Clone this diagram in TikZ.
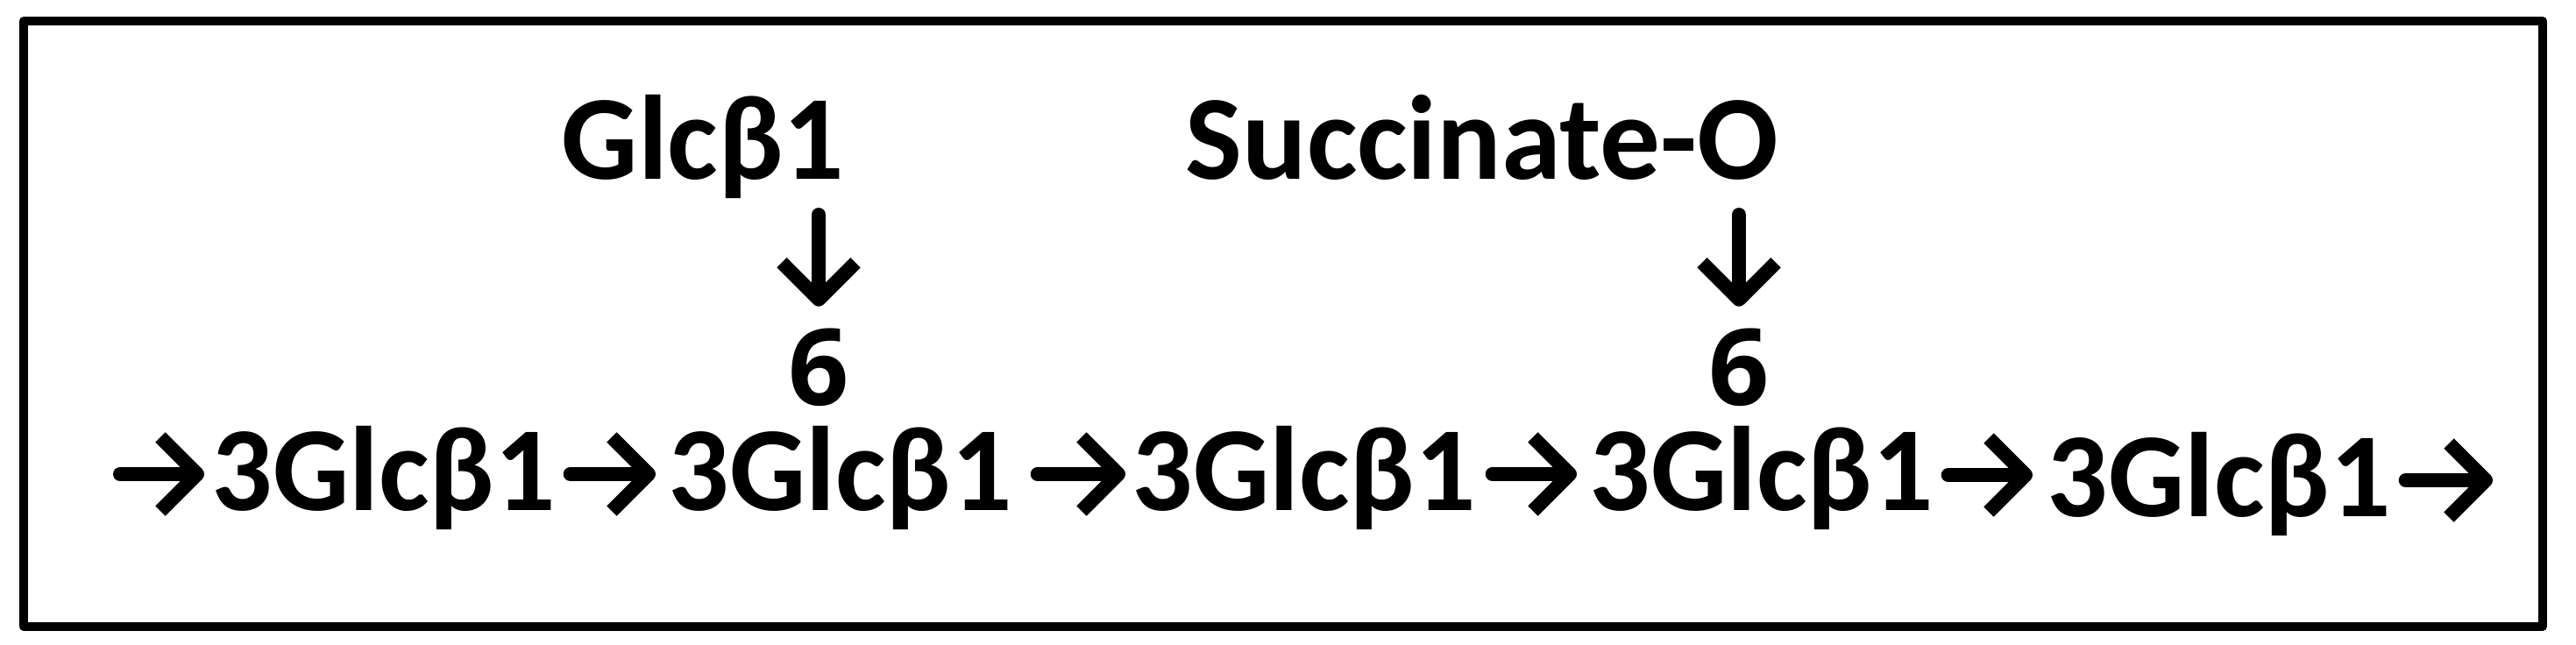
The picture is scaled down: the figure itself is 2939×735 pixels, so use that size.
\documentclass[tikz,border=0pt]{standalone}
\usepackage{fontspec}
\setmainfont{Carlito}
\newfontfamily\posfont{Open Sans}
\usetikzlibrary{arrows.meta,positioning,calc}

\begin{document}
\begin{tikzpicture}[
    x=0.01cm, y=-0.01cm,
    % --- 全域樣式設定 ---
    sugar/.style={font=\fontsize{39}{42}\selectfont\bfseries, inner sep=0pt, anchor=base west},
    chain/.style={sugar, text height=0.62em},
    % 連結位置 (6 號碳)
    position/.style={font=\posfont\fontsize{34.5}{38}\selectfont\bfseries, inner sep=0pt, anchor=base},
    % 糖鏈連結箭頭
    link/.style={line width=4.55pt, line cap=round,
        -{Straight Barb[length=4.2mm, width=8.4mm, line join=round, line cap=butt]}},
    frame/.style={line width=2.85pt, line join=round}
]
    \useasboundingbox (0,0) rectangle (2939,735);

    % --- 1. 外框 ---
    \draw[frame] (27,24) rectangle (2901,715);

    % --- 2. 側鏈 (Glc 與 Succinate) ---
    \node[sugar] (side1) at (640,204) {Glcβ1};
    \node[sugar] (side2) at (1352,204) {Succinate-O};
    \node[position] (six1) at (934,462) {6};
    \node[position] (six2) at (1984,462) {6};

    % --- 3. 主鏈 ---
    \foreach \x/\n in {241/1, 762/2, 1291/3, 1813/4}
        \node[chain] (u\n) at (\x,582) {3Glcβ1};
    \node[chain] (u5) at (2335,589) {3Glcβ1};

    % 主鏈兩端的自由端點
    \coordinate (chain_in) at (137,541);
    \coordinate (chain_out) at (2844,548);

    % --- 4. 箭頭 ---
    \draw[link] (chain_in) -- ($(u1.base west)+(-8,-41)$);
    \draw[link] ($(u1.base east)+(16,-41)$) -- ($(u2.base west)+(-14,-41)$);
    \draw[link] ($(u2.base east)+(28,-41)$) -- ($(u3.base west)+(-7,-41)$);
    \draw[link] ($(u3.base east)+(18,-41)$) -- ($(u4.base west)+(-14,-41)$);
    \draw[link] ($(u4.base east)+(16,-40)$) -- ($(u5.base west)+(-16,-47)$);
    \draw[link] ($(u5.base east)+(16,-41)$) -- (chain_out);

    % 側鏈往下接到 6 號位
    \draw[link, shorten >=0.24cm] ($(six1 |- side1.base)+(0,41)$) -- (six1.north);
    \draw[link, shorten >=0.24cm] ($(six2 |- side2.base)+(0,41)$) -- (six2.north);

\end{tikzpicture}
\end{document}
